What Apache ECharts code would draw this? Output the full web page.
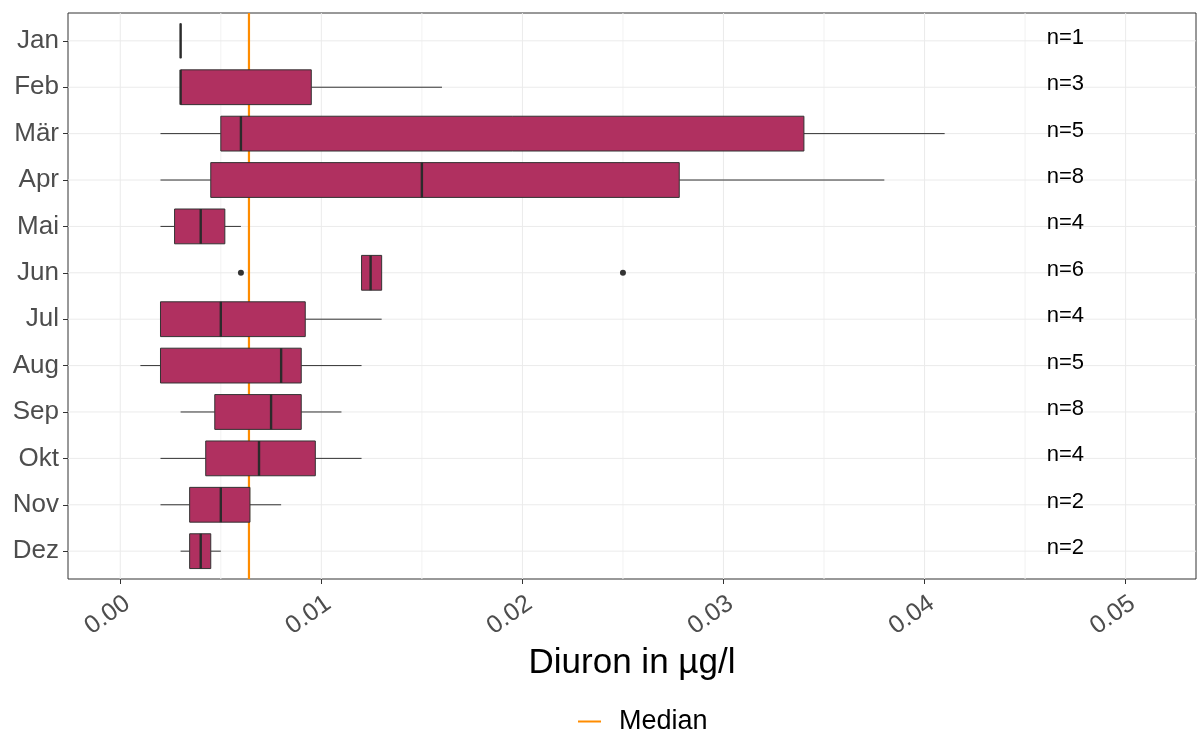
<!DOCTYPE html>
<html>
<head>
<meta charset="utf-8">
<script src="https://cdn.jsdelivr.net/npm/echarts@6/dist/echarts.min.js"></script>
<style>
html,body{margin:0;padding:0;background:#fff;}
#chart{width:1197px;height:734px;}
</style>
</head>
<body>
<div id="chart"></div>
<script>
// ---- data ----
const months = ['Jan','Feb','Mär','Apr','Mai','Jun','Jul','Aug','Sep','Okt','Nov','Dez'];
const whiskerLow  = [0.003, 0.003, 0.002, 0.002,  0.002,  0.012,   0.002,  0.001, 0.003,  0.002,   0.002,   0.003];
const q1          = [0.003, 0.003, 0.005, 0.0045, 0.0027, 0.012,   0.002,  0.002, 0.0047, 0.00425, 0.00345, 0.00345];
const medians     = [0.003, 0.003, 0.006, 0.015,  0.004,  0.01245, 0.005,  0.008, 0.0075, 0.0069,  0.005,   0.004];
const q3          = [0.003, 0.0095,0.034, 0.0278, 0.0052, 0.013,   0.0092, 0.009, 0.009,  0.0097,  0.00645, 0.0045];
const whiskerHigh = [0.003, 0.016, 0.041, 0.038,  0.006,  0.013,   0.013,  0.012, 0.011,  0.012,   0.008,   0.005];
const outlierMonths = ['Jun', 'Jun'];
const outlierValues = [0.006, 0.025];
const nCounts = [1, 3, 5, 8, 4, 6, 4, 5, 8, 4, 2, 2];
const overallMedian = 0.0064;
const nLabelX = 0.047;
const xTickValues = [0, 0.01, 0.02, 0.03, 0.04, 0.05];
const xMinorValues = [0.005, 0.015, 0.025, 0.035, 0.045];
const xMin = -0.0026, xMax = 0.0535;

// ---- build ----
const catIdx = m => months.indexOf(m) + 1;
const boxData = months.map((m, i) => [i + 1, whiskerLow[i], q1[i], medians[i], q3[i], whiskerHigh[i]]);
const outlierData = outlierMonths.map((m, i) => [outlierValues[i], catIdx(m)]);
const nData = months.map((m, i) => [nLabelX, i + 1, 'n=' + nCounts[i]]);
const vGrid = xTickValues.map(v => [v, 1]).concat(xMinorValues.map(v => [v, 0]));
const hGrid = months.map((m, i) => [i + 1]);

const FONT = '"Liberation Sans", Arial, sans-serif';
const chart = echarts.init(document.getElementById('chart'), null, {renderer: 'canvas'});

const option = {
  animation: false,
  backgroundColor: '#ffffff',
  textStyle: {fontFamily: FONT},
  grid: {left: 68, right: 1, top: 13, bottom: 155, show: true, borderColor: '#333333', borderWidth: 1, backgroundColor: 'transparent'},
  legend: {
    data: [{name: 'Median', icon: 'rect'}],
    left: 578, top: 708, padding: 0,
    itemWidth: 23, itemHeight: 2,
    textStyle: {fontSize: 27, color: '#000', fontFamily: FONT, padding: [0, 0, 0, 13]}
  },
  xAxis: {
    type: 'value', min: xMin, max: xMax,
    name: 'Diuron in µg/l', nameLocation: 'middle', nameGap: 64,
    nameTextStyle: {fontSize: 35, color: '#000', fontFamily: FONT},
    axisLine: {show: false, onZero: false},
    axisTick: {show: true, length: 5, lineStyle: {color: '#333333'}, customValues: xTickValues},
    axisLabel: {show: true, customValues: xTickValues, rotate: 35, margin: 12, fontSize: 25, color: '#4D4D4D', fontFamily: FONT,
      align: 'right', verticalAlign: 'top',
      formatter: v => v.toFixed(2)},
    splitLine: {show: false}
  },
  yAxis: {
    type: 'value', min: 0.4, max: 12.6, inverse: true,
    axisLine: {show: false, onZero: false},
    axisTick: {show: true, length: 5, lineStyle: {color: '#333333'}, customValues: months.map((m, i) => i + 1)},
    axisLabel: {show: true, customValues: months.map((m, i) => i + 1), margin: 9, fontSize: 26, color: '#4D4D4D', fontFamily: FONT,
      formatter: v => months[Math.round(v) - 1] || ''},
    splitLine: {show: false}
  },
  series: [
    {
      type: 'custom', name: 'vgrid', silent: true, z: 0,
      data: vGrid,
      renderItem: (params, api) => {
        const p = api.coord([api.value(0), 1]);
        const cs = params.coordSys;
        return {type: 'line', shape: {x1: p[0], y1: cs.y, x2: p[0], y2: cs.y + cs.height},
          style: {stroke: api.value(1) ? '#EBEBEB' : '#F2F2F2', lineWidth: 1}};
      }
    },
    {
      type: 'custom', name: 'hgrid', silent: true, z: 0,
      data: hGrid,
      renderItem: (params, api) => {
        const p = api.coord([0, api.value(0)]);
        const cs = params.coordSys;
        return {type: 'line', shape: {x1: cs.x, y1: p[1], x2: cs.x + cs.width, y2: p[1]},
          style: {stroke: '#EBEBEB', lineWidth: 1}};
      }
    },
    {
      type: 'line', name: 'Median', data: [], color: '#FF8C00'
    },
    {
      type: 'custom', name: 'medianLine', silent: true, z: 3,
      data: [[overallMedian]],
      renderItem: (params, api) => {
        const p = api.coord([api.value(0), 1]);
        const cs = params.coordSys;
        return {type: 'line', shape: {x1: p[0], y1: cs.y, x2: p[0], y2: cs.y + cs.height},
          style: {stroke: '#FF8C00', lineWidth: 2.2}};
      }
    },
    {
      type: 'custom', name: 'boxes', z: 5,
      data: boxData,
      renderItem: (params, api) => {
        const c = api.value(0);
        const pLo = api.coord([api.value(1), c]);
        const pA = api.coord([api.value(2), c]);
        const pM = api.coord([api.value(3), c]);
        const pB = api.coord([api.value(4), c]);
        const pHi = api.coord([api.value(5), c]);
        const h = Math.abs(api.size([0, 1])[1]) * 0.75;
        const y = pA[1];
        const ws = {stroke: '#333333', lineWidth: 1};
        return {type: 'group', children: [
          {type: 'line', shape: {x1: pLo[0], y1: y, x2: pA[0], y2: y}, style: ws},
          {type: 'line', shape: {x1: pB[0], y1: y, x2: pHi[0], y2: y}, style: ws},
          {type: 'rect', shape: {x: pA[0], y: y - h / 2, width: pB[0] - pA[0], height: h},
            style: {fill: '#B03060', stroke: '#333333', lineWidth: 1}},
          {type: 'line', shape: {x1: pM[0], y1: y - h / 2, x2: pM[0], y2: y + h / 2},
            style: {stroke: '#2B2B2B', lineWidth: 2.4}}
        ]};
      }
    },
    {
      type: 'scatter', name: 'outliers', z: 6,
      data: outlierData, symbolSize: 6,
      itemStyle: {color: '#333333', opacity: 1}
    },
    {
      type: 'custom', name: 'ncount', z: 6, silent: true,
      data: nData,
      renderItem: (params, api) => {
        const p = api.coord([api.value(0), api.value(1)]);
        return {type: 'text', x: p[0], y: p[1] - 3,
          style: {text: nData[params.dataIndex][2], fill: '#000', font: '22px ' + FONT, align: 'center', verticalAlign: 'middle'}};
      }
    }
  ]
};
chart.setOption(option);
</script>
</body>
</html>
